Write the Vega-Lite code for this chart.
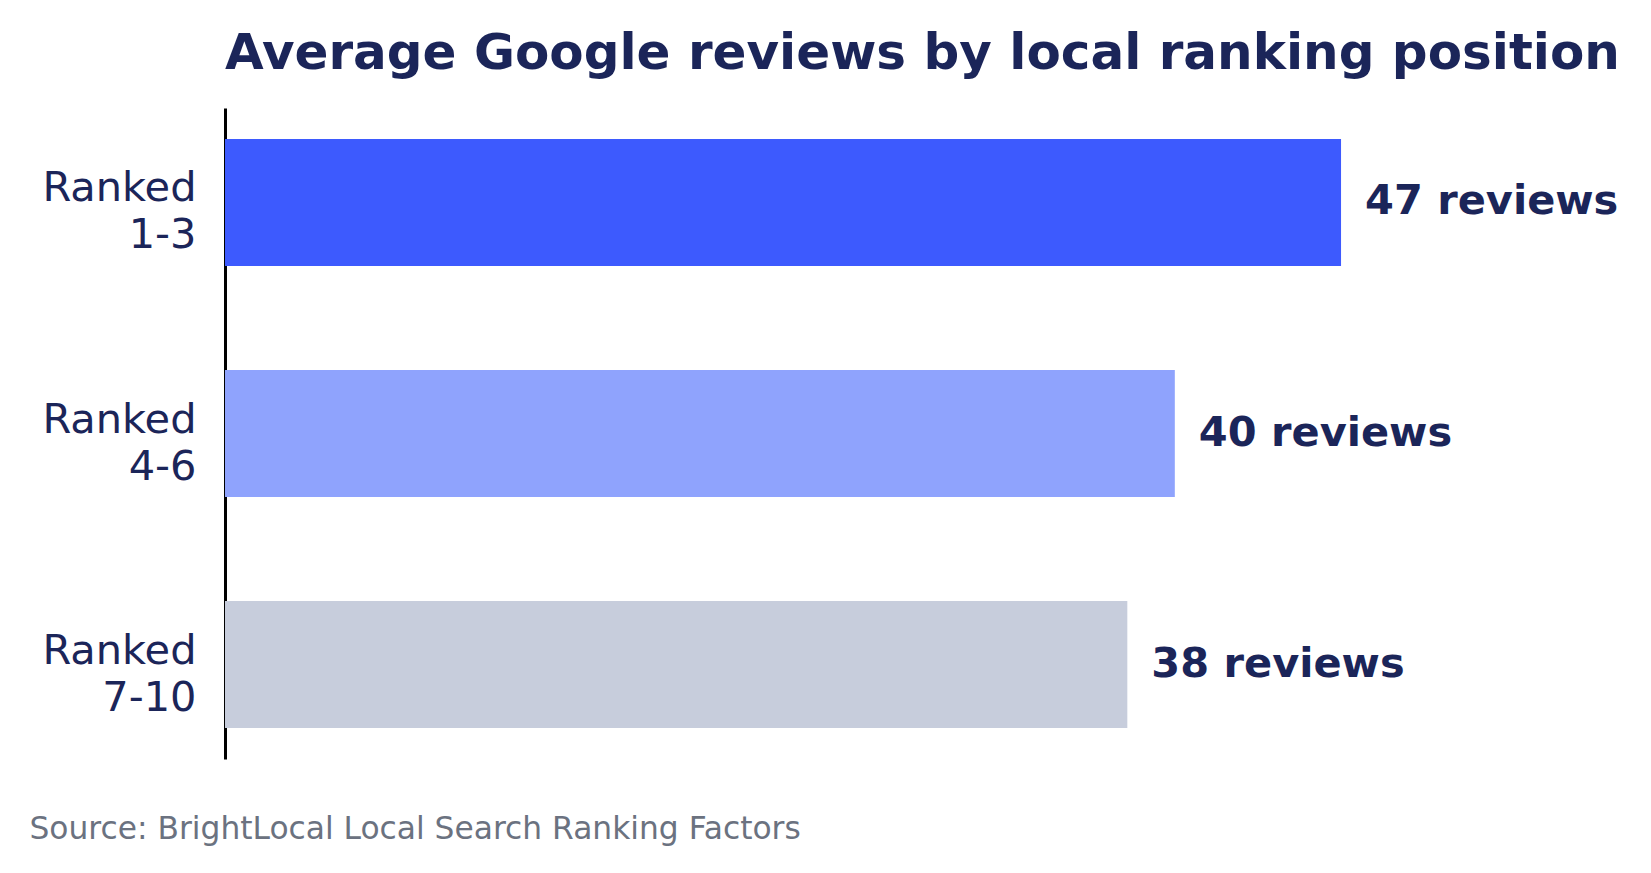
{
  "$schema": "https://vega.github.io/schema/vega-lite/v6.json",
  "autosize": {"type": "none"},
  "width": 1306,
  "height": 651,
  "padding": {"left": 225, "top": 108, "right": 120, "bottom": 114},
  "background": "white",
  "config": {"font": "DejaVu Sans", "view": {"stroke": null}},
  "title": {
    "text": "Average Google reviews by local ranking position",
    "anchor": "start",
    "frame": "group",
    "fontSize": 50,
    "fontWeight": "bold",
    "color": "#1b2559",
    "baseline": "alphabetic",
    "offset": -11
  },
  "data": {
    "values": [
      {"rank": "Ranked 1-3", "reviews": 47, "label": "47 reviews"},
      {"rank": "Ranked 4-6", "reviews": 40, "label": "40 reviews"},
      {"rank": "Ranked 7-10", "reviews": 38, "label": "38 reviews"}
    ]
  },
  "encoding": {
    "y": {
      "field": "rank",
      "type": "nominal",
      "sort": null,
      "scale": {"paddingInner": 0.45, "paddingOuter": 0.134},
      "axis": {
        "title": null,
        "domainColor": "black",
        "domainWidth": 3,
        "ticks": false,
        "grid": false,
        "labelFontSize": 41.5,
        "labelColor": "#1b2559",
        "labelPadding": 29,
        "labelLineHeight": 47,
        "labelLimit": 400,
        "labelOffset": -13,
        "labelExpr": "split(datum.label, ' ')"
      }
    },
    "x": {
      "field": "reviews",
      "type": "quantitative",
      "scale": {"domain": [0, 55], "nice": false},
      "axis": {
        "title": "Source: BrightLocal Local Search Ranking Factors",
        "labels": false,
        "ticks": false,
        "domain": false,
        "grid": false,
        "titleFontSize": 31.3,
        "titleFontWeight": "normal",
        "titleColor": "#6b7280",
        "titleX": -196,
        "titleY": 79,
        "titleAlign": "left",
        "titleBaseline": "alphabetic",
        "titleAnchor": "start"
      }
    }
  },
  "layer": [
    {
      "mark": {"type": "bar"},
      "encoding": {
        "color": {
          "field": "rank",
          "type": "nominal",
          "scale": {"domain": ["Ranked 1-3", "Ranked 4-6", "Ranked 7-10"], "range": ["#3d5afe", "#8fa3fd", "#c7cddc"]},
          "legend": null
        }
      }
    },
    {
      "mark": {"type": "text", "align": "left", "baseline": "middle", "dx": 24, "fontSize": 41.5, "fontWeight": "bold", "color": "#1b2559"},
      "encoding": {"text": {"field": "label"}}
    }
  ]
}
